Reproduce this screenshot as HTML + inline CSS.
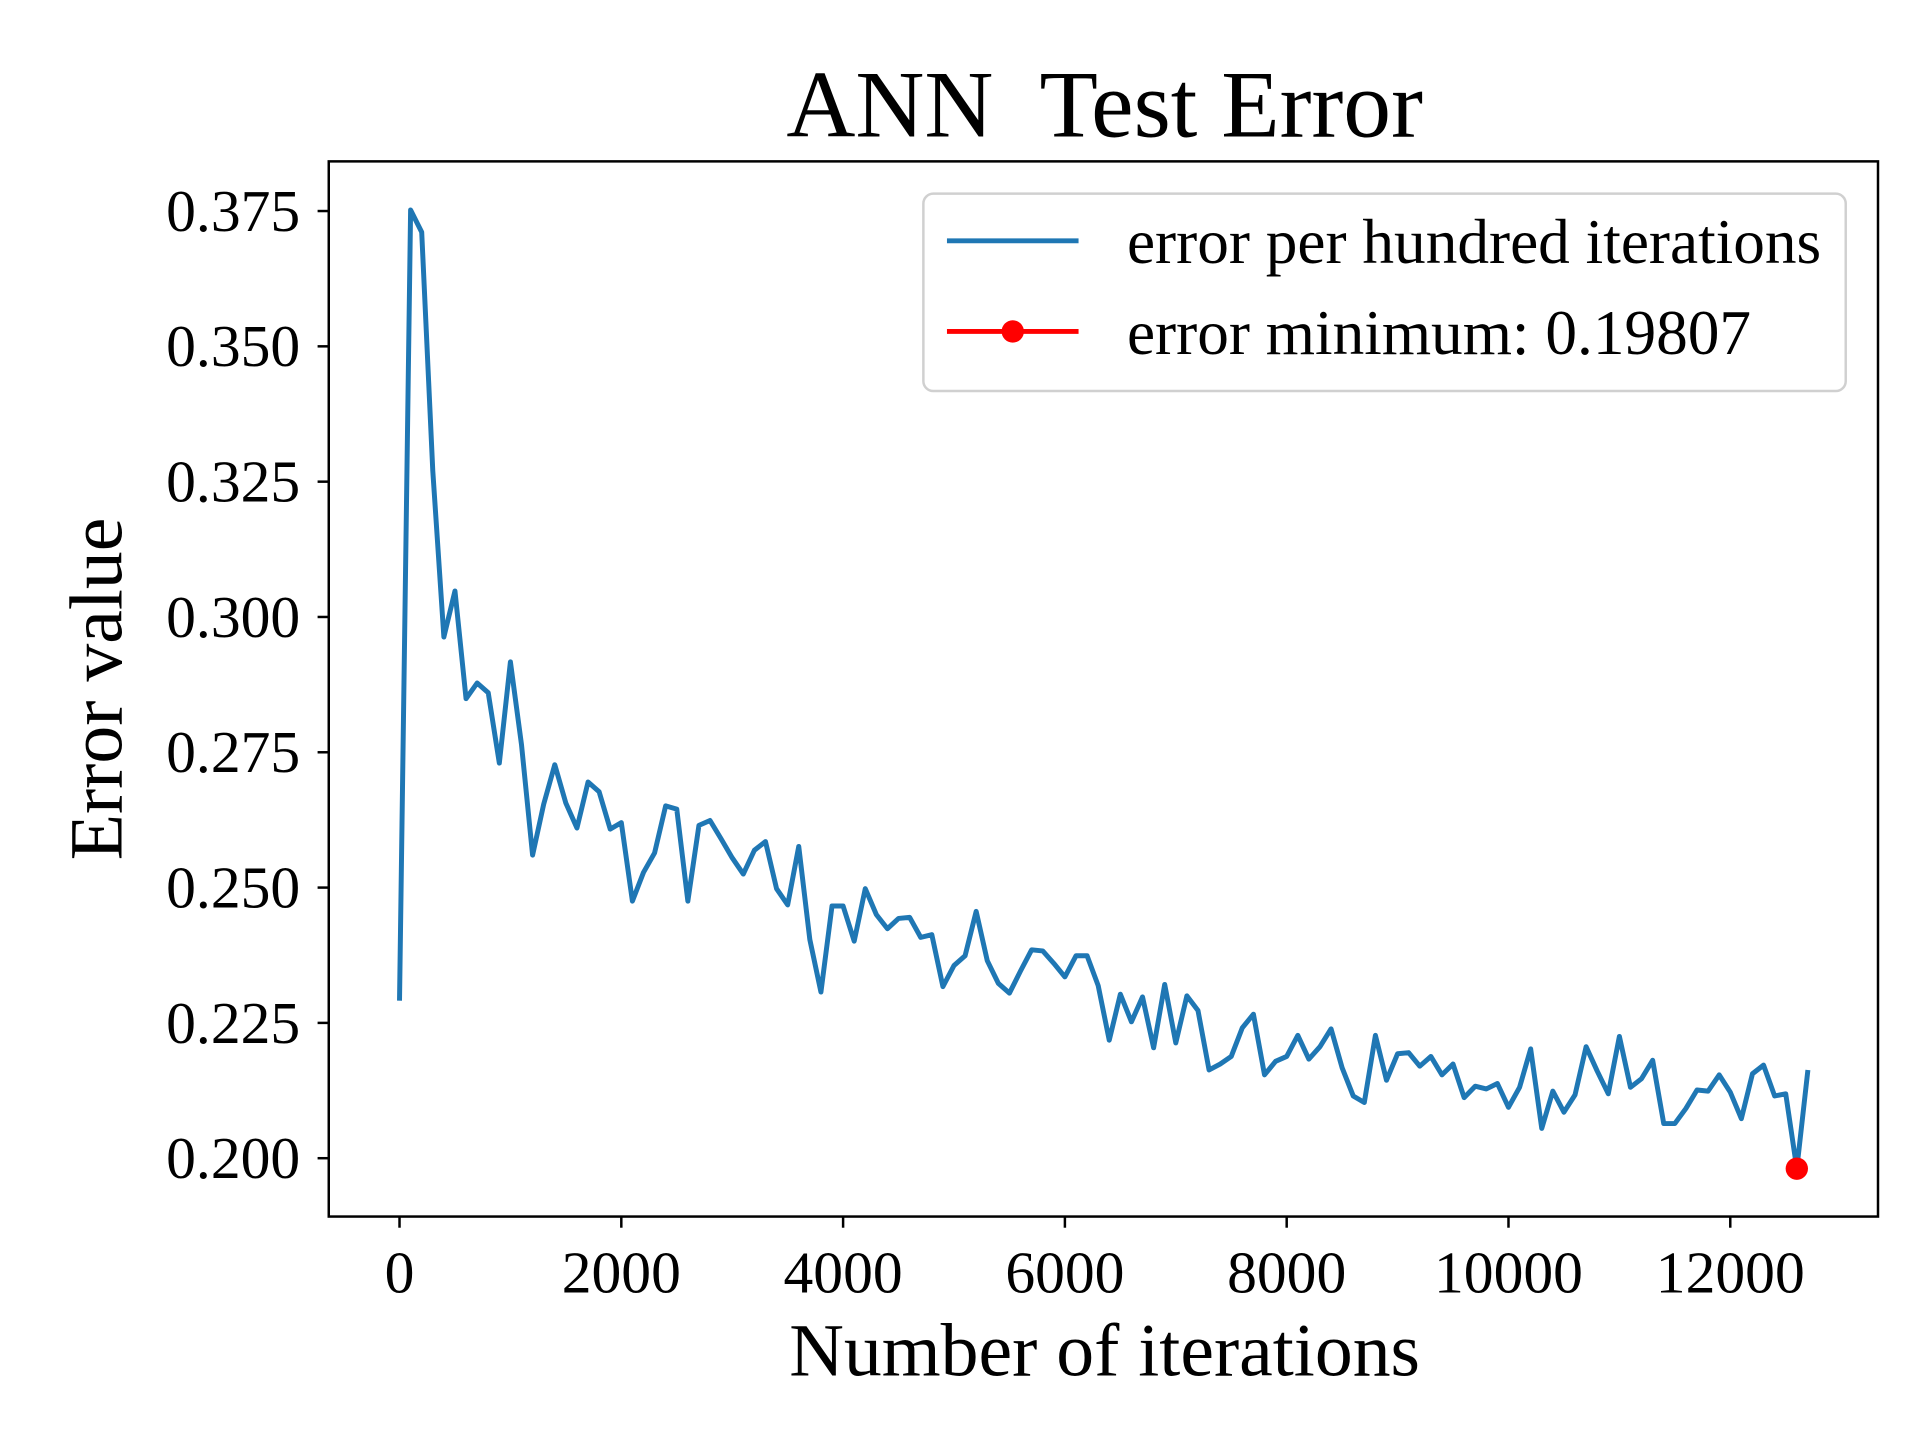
<!DOCTYPE html>
<html><head><meta charset="utf-8"><style>
html,body{margin:0;padding:0;background:#fff;}
svg{display:block;}
text{font-family:"Liberation Serif","Times New Roman",serif;fill:#000;}
</style></head><body>
<svg id="chart" width="1920" height="1440" viewBox="0 0 1545 1160" xmlns="http://www.w3.org/2000/svg">
<rect width="1545" height="1160" fill="#fff"/>
<text x="889" y="110" text-anchor="middle" font-size="77" xml:space="preserve">ANN  Test Error</text>
<g id="plot"></g>
<rect x="264" y="130" width="1248" height="850" fill="none" stroke="#000" stroke-width="2"/>
<text x="889" y="1108" text-anchor="middle" font-size="61">Number of iterations</text>
<text transform="translate(97,555) rotate(-90)" text-anchor="middle" font-size="61">Error value</text>
<g>
<rect x="743" y="156" width="743" height="159" rx="8" fill="#fff" fill-opacity="0.8" stroke="#d0d0d0" stroke-width="2"/>
<line x1="762" y1="194" x2="868" y2="194" stroke="#1f77b4" stroke-width="4"/>
<text x="907" y="212" font-size="51">error per hundred iterations</text>
<line x1="762" y1="267" x2="868" y2="267" stroke="#ff0000" stroke-width="4"/>
<circle cx="815" cy="267" r="9" fill="#ff0000"/>
<text x="907" y="285" font-size="51">error minimum: 0.19807</text>
</g>
</svg>
<script>
const errorValues = [0.2291,0.3752,0.3711,0.327,0.2963,0.3048,0.2849,0.2878,0.286,0.273,
0.2917,0.2764,0.256,0.2654,0.2727,0.2656,0.261,0.2695,0.2677,0.2608,
0.262,0.2475,0.2528,0.2564,0.2651,0.2645,0.2475,0.2615,0.2624,0.259,
0.2555,0.2525,0.2569,0.2585,0.2498,0.2468,0.2576,0.2404,0.2307,0.2466,
0.2466,0.2401,0.2498,0.245,0.2424,0.2443,0.2445,0.2408,0.2413,0.2317,
0.2356,0.2374,0.2456,0.2365,0.2323,0.2305,0.2346,0.2385,0.2383,0.236,
0.2335,0.2374,0.2374,0.2319,0.2218,0.2303,0.2252,0.2298,0.2204,0.2321,
0.2213,0.23,0.2273,0.2163,0.2174,0.2188,0.2241,0.2266,0.2154,0.2179,
0.2188,0.2227,0.2183,0.2206,0.2239,0.2167,0.2115,0.2103,0.2227,0.2144,
0.2193,0.2195,0.217,0.2188,0.2154,0.2174,0.2112,0.2133,0.2128,0.2138,
0.2094,0.2131,0.2202,0.2055,0.2124,0.2085,0.2117,0.2206,0.2161,0.2119,
0.2225,0.2131,0.2147,0.2181,0.2064,0.2064,0.2092,0.2126,0.2124,0.2154,
0.2122,0.2073,0.2156,0.2172,0.2115,0.2119,0.19807,0.2163];
const iterationStep = 100;
const minIteration = [12600];
const minValue = [0.19807];
const xTicks = [0,2000,4000,6000,8000,10000,12000];
const xTickLabels = ["0","2000","4000","6000","8000","10000","12000"];
const yTicks = [0.2,0.225,0.25,0.275,0.3,0.325,0.35,0.375];
const yTickLabels = ["0.200","0.225","0.250","0.275","0.300","0.325","0.350","0.375"];

const NS = "http://www.w3.org/2000/svg";
const sx = v => 321 + (v - 0) * (1393 - 321) / 12000;
const sy = v => 933 - (v - 0.2) * (933 - 170) / 0.175;
const g = document.getElementById('plot');

xTicks.forEach((t, i) => {
  const l = document.createElementNS(NS, 'line');
  
  
  l.setAttribute('x1', sx(t)); l.setAttribute('x2', sx(t));
  l.setAttribute('y1', 980); l.setAttribute('y2', 989);
  l.setAttribute('stroke', '#000'); l.setAttribute('stroke-width', '2');
  g.appendChild(l);
  const tx = document.createElementNS(NS, 'text');
  
  
  tx.setAttribute('x', sx(t)); tx.setAttribute('y', 1041);
  tx.setAttribute('text-anchor', 'middle'); tx.setAttribute('font-size', '48');
  tx.textContent = xTickLabels[i];
  g.appendChild(tx);
});
yTicks.forEach((t, i) => {
  const l = document.createElementNS(NS, 'line');
  
  
  l.setAttribute('x1', 255); l.setAttribute('x2', 264);
  l.setAttribute('y1', sy(t)); l.setAttribute('y2', sy(t));
  l.setAttribute('stroke', '#000'); l.setAttribute('stroke-width', '2');
  g.appendChild(l);
  const tx = document.createElementNS(NS, 'text');
  
  
  tx.setAttribute('x', 241); tx.setAttribute('y', sy(t) + 16);
  tx.setAttribute('text-anchor', 'end'); tx.setAttribute('font-size', '48');
  tx.textContent = yTickLabels[i];
  g.appendChild(tx);
});

const pts = errorValues.map((v, i) => sx(i * iterationStep).toFixed(2) + ',' + sy(v).toFixed(2)).join(' ');
const pl = document.createElementNS(NS, 'polyline');


pl.setAttribute('points', pts);
pl.setAttribute('fill', 'none'); pl.setAttribute('stroke', '#1f77b4');
pl.setAttribute('stroke-width', '4'); pl.setAttribute('stroke-linejoin', 'round');
g.appendChild(pl);

const c = document.createElementNS(NS, 'circle');


c.setAttribute('cx', sx(minIteration[0])); c.setAttribute('cy', sy(minValue[0]));
c.setAttribute('r', 9); c.setAttribute('fill', '#ff0000');
g.appendChild(c);
</script>
</body></html>
